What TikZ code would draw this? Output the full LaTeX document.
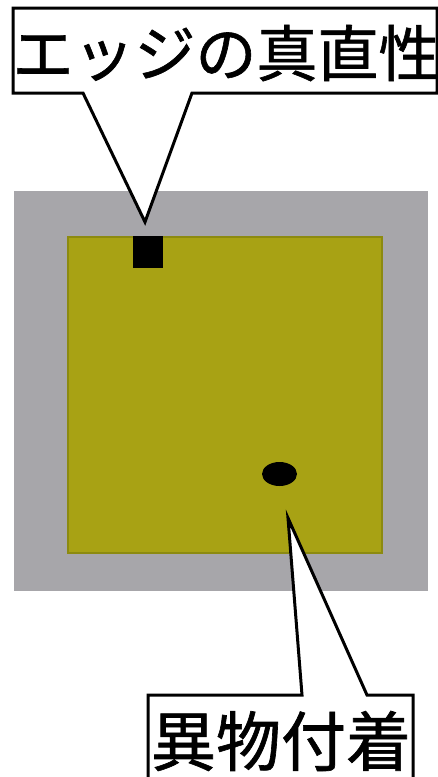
\documentclass[tikz,border=0pt]{standalone}
\usepackage{fontspec}
\newfontfamily\jpfont[FakeBold=1]{Noto Sans CJK JP}
\definecolor{platecol}{HTML}{A7A6AA}
\definecolor{olivefill}{HTML}{A8A214}
\definecolor{olivedraw}{HTML}{8C8A10}
\tikzset{
  callout/.style={draw=black, fill=white, line width=3pt, line join=miter},
  labeltext/.style={inner sep=0pt, font=\jpfont},
}
\begin{document}
\begin{tikzpicture}[x=1pt,y=-1pt]
\useasboundingbox (0,0) rectangle (438,777);
% plate
\fill[platecol] (14,191) rectangle (428,591);
\draw[olivedraw, fill=olivefill, line width=1.5pt] (68,237) rectangle (382,553);
% defects
\fill[black] (133,236) rectangle (163,268);
\fill[black] (279.5,474) ellipse [x radius=17.5, y radius=12];
% pointer tips
\coordinate (tipA) at (145,222);
\coordinate (tipB) at (288,518);
% top callout
\draw[callout] (13,8) -- (437,8) -- (437,93) -- (192,93) -- (tipA) -- (83,93) -- (13,93) -- cycle;
\node[labeltext, font=\jpfont\fontsize{61}{61}\selectfont] (edge) at (226,53) {エッジの真直性};
% bottom callout
\draw[callout] (148,695) -- (302,695) -- (tipB) -- (367,695) -- (413,695) -- (413,790) -- (148,790) -- cycle;
\node[labeltext, font=\jpfont\fontsize{65}{65}\selectfont] (dirt) at (281,741) {異物付着};
\end{tikzpicture}
\end{document}
